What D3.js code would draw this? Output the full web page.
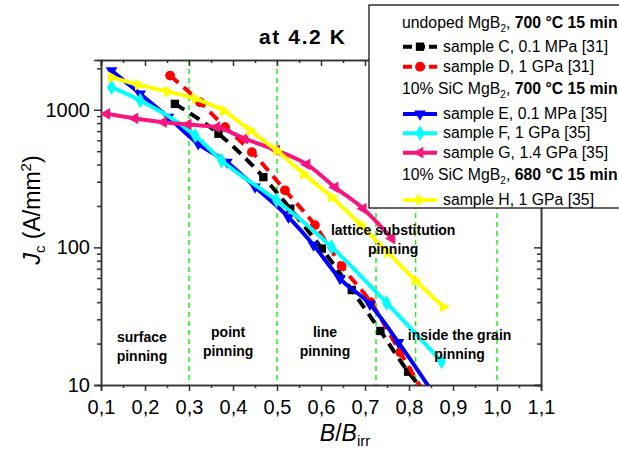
<!DOCTYPE html>
<html>
<head>
<meta charset="utf-8">
<script src="https://d3js.org/d3.v7.min.js"></script>
<style>
  body { margin: 0; background: #fff; }
  text { font-family: "Liberation Sans", Arial, sans-serif; }
  .tick text { font-size: 20px; fill: #000; }
  .axis path, .axis line { stroke: #333; stroke-width: 1.5; }
  .lbl { font-size: 14px; font-weight: bold; }
  .leg { font-size: 15.8px; }
</style>
</head>
<body>
<svg width="619" height="459"></svg>
<script>
// ---- data ----
const sampleC_B  = [0.268, 0.367, 0.469, 0.530, 0.602, 0.670, 0.735, 0.798, 0.830];
const sampleC_Jc = [1104, 670, 324, 191, 98, 49, 24.7, 12.5, 9.3];
const sampleD_B  = [0.257, 0.325, 0.382, 0.443, 0.518, 0.586, 0.647, 0.713, 0.780, 0.830];
const sampleD_Jc = [1774, 1135, 748, 492, 260, 145, 73, 40, 17.3, 9.2];
const sampleE_B  = [0.124, 0.189, 0.253, 0.321, 0.386, 0.450, 0.526, 0.583, 0.643, 0.711, 0.776, 0.850];
const sampleE_Jc = [1927, 1306, 883, 566, 417, 275, 166, 104, 59.4, 38.7, 20.4, 9.2];
const sampleF_B  = [0.124, 0.189, 0.314, 0.374, 0.499, 0.624, 0.749, 0.874];
const sampleF_Jc = [1459, 1167, 651, 428, 220, 100.8, 39.5, 14.8];
const sampleG_B  = [0.113, 0.177, 0.242, 0.298, 0.363, 0.427, 0.499, 0.568, 0.632, 0.696, 0.761];
const sampleG_Jc = [935, 865, 813, 782, 748, 616, 507, 401, 273, 191, 116];
const sampleH_B  = [0.124, 0.185, 0.251, 0.314, 0.378, 0.439, 0.499, 0.560, 0.624, 0.689, 0.752, 0.814, 0.878];
const sampleH_Jc = [1726, 1517, 1358, 1203, 988, 708, 507, 343, 232, 147, 92, 57.8, 37];

const xMajor = [0.1, 0.2, 0.3, 0.4, 0.5, 0.6, 0.7, 0.8, 0.9, 1.0, 1.1];
const xMinor = [0.15, 0.25, 0.35, 0.45, 0.55, 0.65, 0.75, 0.85, 0.95, 1.05];
const yMajor = [10, 100, 1000];
const yMinor = [20, 30, 40, 50, 60, 70, 80, 90, 200, 300, 400, 500, 600, 700, 800, 900, 2000];
const regionBounds = [0.3, 0.5, 0.725, 0.815, 1.0];

const regionText = ["surface|pinning", "point|pinning", "line|pinning",
                    "lattice substitution|pinning", "inside the grain|pinning"];
const regionAt_B  = [0.193, 0.389, 0.609, 0.764, 0.915];
const regionAt_Jc = [20.5, 22.3, 22.3, 122.5, 21.2];

const svg = d3.select("svg");
const x = d3.scaleLinear().domain([0.1, 1.1]).range([101, 541]);
const y = d3.scaleLog().domain([10, 2300]).range([385, 60]);

svg.append("clipPath").attr("id", "plot")
  .append("rect").attr("x", 101).attr("y", 60).attr("width", 440).attr("height", 325);

// dashed region boundaries
svg.append("g").selectAll("line").data(regionBounds).join("line")
  .attr("x1", d => x(d)).attr("x2", d => x(d))
  .attr("y1", 60).attr("y2", 385)
  .attr("stroke", "#22ee22").attr("stroke-width", 1.5)
  .attr("stroke-dasharray", "5,4");

// axes
const fmt = d => d3.format(".1f")(d).replace(".", ",");
const ax = svg.append("g").attr("class", "axis");
ax.append("g").attr("transform", "translate(0,385)")
  .call(d3.axisBottom(x).tickValues(xMajor).tickFormat(fmt).tickSize(6).tickPadding(9));
ax.append("g").attr("transform", "translate(0,385)")
  .call(d3.axisBottom(x).tickValues(xMinor).tickFormat("").tickSize(3));
ax.append("g").attr("transform", "translate(0,60)")
  .call(d3.axisBottom(x).tickValues(xMajor).tickFormat("").tickSize(6));
ax.append("g").attr("transform", "translate(0,60)")
  .call(d3.axisBottom(x).tickValues(xMinor).tickFormat("").tickSize(3));
ax.append("g").attr("transform", "translate(101,0)")
  .call(d3.axisLeft(y).tickValues(yMajor).tickFormat(d3.format("d")).tickSize(7).tickPadding(4));
ax.append("g").attr("transform", "translate(101,0)")
  .call(d3.axisLeft(y).tickValues(yMinor).tickFormat("").tickSize(4));
ax.append("g").attr("transform", "translate(541,0)")
  .call(d3.axisLeft(y).tickValues(yMajor).tickFormat("").tickSize(7));
ax.append("g").attr("transform", "translate(541,0)")
  .call(d3.axisLeft(y).tickValues(yMinor).tickFormat("").tickSize(4));
ax.selectAll(".domain").attr("stroke", "#333").attr("stroke-width", 1.5);

// series
const series = [
  {B: sampleC_B, J: sampleC_Jc, color: "#000000", sym: d3.symbolSquare, rot: 0, dash: "11,7", size: 70},
  {B: sampleD_B, J: sampleD_Jc, color: "#ff0000", sym: d3.symbolCircle, rot: 0, dash: "11,7", size: 75},
  {B: sampleE_B, J: sampleE_Jc, color: "#0000ff", sym: d3.symbolTriangle, rot: 180, dash: null, size: 60},
  {B: sampleF_B, J: sampleF_Jc, color: "#00ffff", sym: d3.symbolDiamond, rot: 0, dash: null, size: 70},
  {B: sampleG_B, J: sampleG_Jc, color: "#f5167e", sym: d3.symbolTriangle, rot: -90, dash: null, size: 60},
  {B: sampleH_B, J: sampleH_Jc, color: "#ffff00", sym: d3.symbolTriangle, rot: 90, dash: null, size: 60}
];
const line = d3.line().x(d => x(d[0])).y(d => y(d[1])).curve(d3.curveMonotoneX);
const plot = svg.append("g").attr("clip-path", "url(#plot)");
series.forEach(s => {
  const pts = s.B.map((b, i) => [b, s.J[i]]);
  plot.append("path").datum(pts)
    .attr("d", line).attr("fill", "none")
    .attr("stroke", s.color).attr("stroke-width", 4)
    .attr("stroke-dasharray", s.dash);
  plot.append("g").selectAll("path").data(pts).join("path")
    .attr("d", d3.symbol(s.sym, s.size))
    .attr("transform", d => `translate(${x(d[0])},${y(d[1])}) rotate(${s.rot})`)
    .attr("fill", s.color);
});

// region labels
regionText.forEach((t, i) => {
  const parts = t.split("|");
  const tx = svg.append("text").attr("class", "lbl").attr("text-anchor", "middle")
    .attr("x", x(regionAt_B[i])).attr("y", y(regionAt_Jc[i]));
  parts.forEach((p, k) => {
    tx.append("tspan").attr("x", x(regionAt_B[i])).attr("dy", k ? 19 : 0).text(p);
  });
});

// title
svg.append("text").attr("x", 302).attr("y", 44).attr("text-anchor", "middle")
  .attr("font-size", 21).attr("font-weight", "bold")
  .attr("textLength", 86).attr("lengthAdjust", "spacing").text("at 4.2 K");

// axis titles
const xt = svg.append("text").attr("x", 345).attr("y", 441).attr("text-anchor", "middle")
  .attr("font-size", 23);
xt.append("tspan").attr("font-style", "italic").text("B");
xt.append("tspan").text("/");
xt.append("tspan").attr("font-style", "italic").text("B");
xt.append("tspan").attr("font-size", 15).attr("dy", 5).text("irr");

const yt = svg.append("text").attr("transform", "translate(40,210) rotate(-90)")
  .attr("text-anchor", "middle").attr("font-size", 23);
yt.append("tspan").attr("font-style", "italic").text("J");
yt.append("tspan").attr("font-size", 15).attr("dy", 5).text("c");
yt.append("tspan").attr("dy", -5).text(" (A/mm");
yt.append("tspan").attr("font-size", 15).attr("dy", -9).text("2");
yt.append("tspan").attr("dy", 9).text(")");

// legend
const leg = svg.append("g");
leg.append("rect").attr("x", 369).attr("y", 5).attr("width", 260).attr("height", 203)
  .attr("fill", "#fff").attr("stroke", "#000").attr("stroke-width", 1.2);

const legendHeads = [["undoped MgB", "700 °C 15 min"], ["10% SiC MgB", "700 °C 15 min"], ["10% SiC MgB", "680 °C 15 min"]];
const legendNames = ["sample C, 0.1 MPa [31]", "sample D, 1 GPa [31]", "sample E, 0.1 MPa [35]",
                     "sample F, 1 GPa [35]", "sample G, 1.4 GPa [35]", "sample H, 1 GPa [35]"];
const headRows = [22.7, 89.3, 175];
const sampleRows = [46.7, 66.7, 114, 133.3, 152.7, 200];

legendHeads.forEach((h, i) => {
  const t = leg.append("text").attr("class", "leg").attr("x", 402).attr("y", headRows[i] + 5);
  t.append("tspan").text(h[0]);
  t.append("tspan").attr("font-size", 10).attr("dy", 4).text("2");
  t.append("tspan").attr("dy", -4).text(", ");
  t.append("tspan").attr("font-weight", "bold").text(h[1]);
});
legendNames.forEach((n, i) => {
  const s = series[i], cy = sampleRows[i];
  leg.append("line").attr("x1", 403).attr("x2", 437).attr("y1", cy).attr("y2", cy)
    .attr("stroke", s.color).attr("stroke-width", 4).attr("stroke-dasharray", s.dash ? "9,4" : null);
  leg.append("path").attr("d", d3.symbol(s.sym, s.size))
    .attr("transform", `translate(420,${cy}) rotate(${s.rot})`).attr("fill", s.color);
  leg.append("text").attr("class", "leg").attr("x", 443).attr("y", cy + 5).text(n);
});
</script>
</body>
</html>
